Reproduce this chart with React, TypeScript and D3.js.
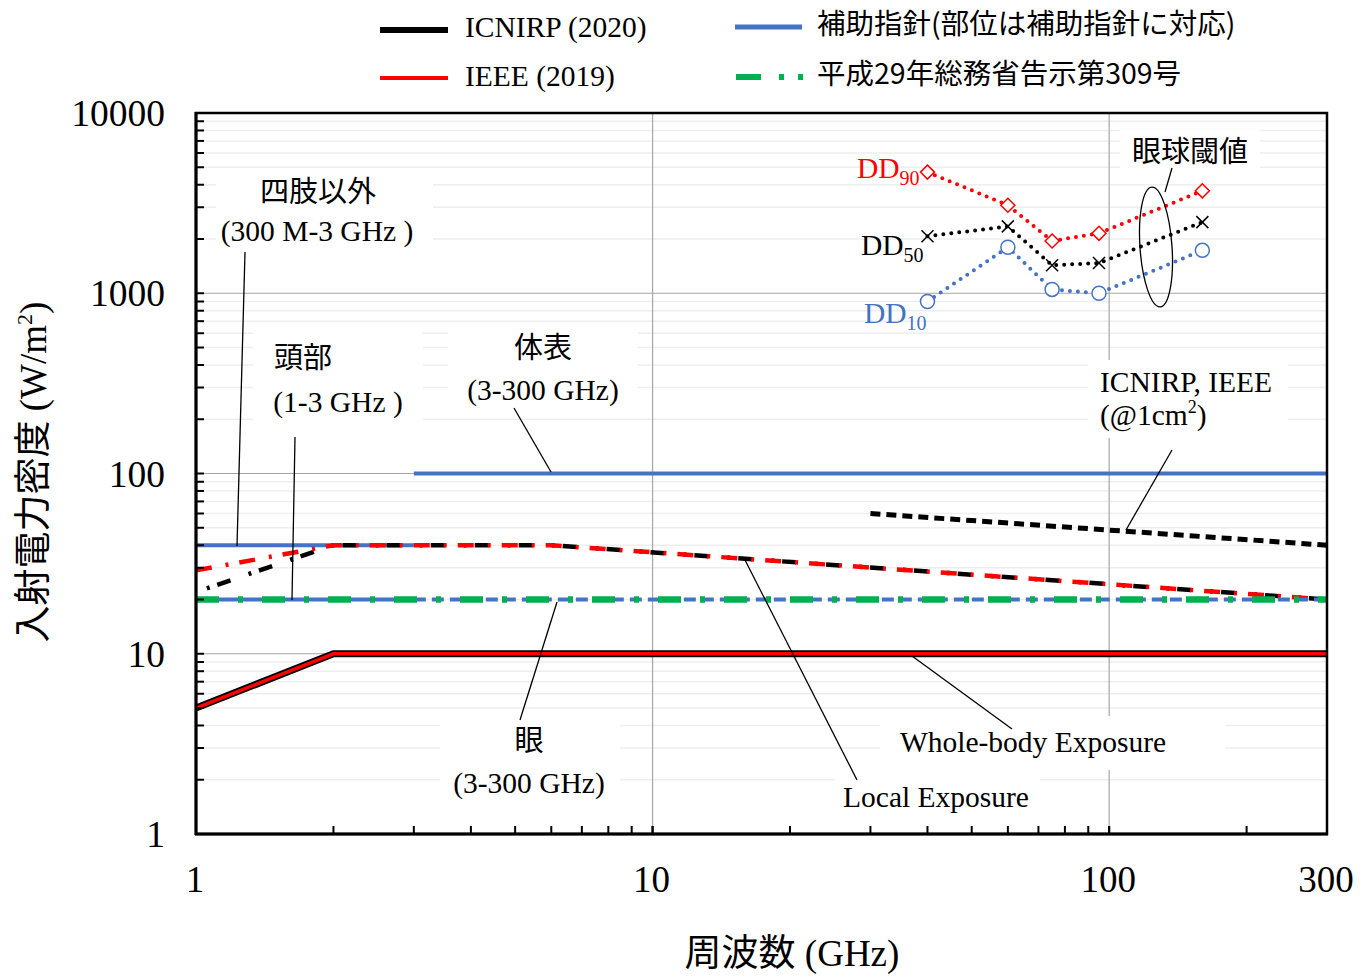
import React from 'react'
import * as d3 from 'd3'

// frequency axis (GHz) and power density axis (W/m2)
const xTickValues = [1, 10, 100, 300]
const yTickValues = [1, 10, 100, 1000, 10000]

// whole-body exposure
const wbFreq = [1, 2, 300]
const wbIcnirp = [5, 10, 10]
const wbIeee = [5, 10, 10]

// local exposure
const localFreq = [1, 2, 6, 300]
const localIcnirp = [22, 40, 40, 20]
const localIeee = [29, 40, 40, 20]

// ICNIRP, IEEE @1cm2
const cm1Freq = [30, 300]
const cm1Vals = [60, 40]

// supplementary guideline (blue)
const nonLimbFreq = [1, 3]
const nonLimbVals = [40, 40]
const headFreq = [1, 3]
const headVals = [20, 20]
const bodyFreq = [3, 300]
const bodyVals = [100, 100]
const eyeFreq = [3, 300]
const eyeVals = [20, 20]

// MIC notice No.309 (green)
const micFreq = [1, 300]
const micVals = [20, 20]

// eye damage thresholds
const thrFreq = [40, 60, 75, 95, 160]
const dd90 = [4700, 3080, 1950, 2150, 3700]
const dd50 = [2070, 2350, 1430, 1470, 2480]
const dd10 = [900, 1800, 1050, 1000, 1730]

const W = 1363
const H = 977
const SERIF = "'Liberation Serif', 'Times New Roman', serif"
const CJK = "'Noto Sans CJK JP', sans-serif"
const BLUE = '#4472C4'
const GREEN = '#00B050'
const RED = '#FF0000'

const x = d3.scaleLog().domain([1, 300]).range([196, 1327])
const y = d3.scaleLog().domain([1, 10000]).range([834, 113])

const zip = (xs, ys) => xs.map((f, i) => [f, ys[i]])
const line = d3.line().x(d => x(d[0])).y(d => y(d[1]))

// length of the first segment, so the two dashed local lines stay in phase after 2 GHz
const segLen = (xs, ys) => Math.hypot(x(xs[1]) - x(xs[0]), y(ys[1]) - y(ys[0]))

export default function App() {
  const minorY = []
  for (let dec = 1; dec < 10000; dec *= 10)
    for (let k = 2; k <= 9; k++) minorY.push(dec * k)
  const minorX = []
  for (let dec = 1; dec < 300; dec *= 10)
    for (let k = 1; k <= 9; k++) if (dec * k <= 300 && dec * k > 1) minorX.push(dec * k)

  const boxes = [
    [216, 168, 217, 84],
    [253, 322, 170, 118],
    [448, 322, 190, 92],
    [1088, 360, 200, 78],
    [440, 712, 180, 95],
    [880, 716, 345, 54],
    [835, 776, 205, 42],
    [1120, 130, 140, 42],
  ]

  const phase = segLen(localFreq, localIcnirp) - segLen(localFreq, localIeee)
  const diamond = (cx, cy, r) => `M${cx},${cy - r}L${cx + r},${cy}L${cx},${cy + r}L${cx - r},${cy}Z`

  return (
    <div style={{ position: 'absolute', left: 0, top: 0 }}>
      <svg width={W} height={H} style={{ display: 'block', background: '#fff' }}>
        {/* minor grid */}
        {minorY.map(v => (
          <line key={'my' + v} x1={196} x2={1327} y1={y(v)} y2={y(v)} stroke="#eeeeee" strokeWidth={1.5} />
        ))}
        {/* major grid */}
        {[10, 100, 1000].map(v => (
          <line key={'gy' + v} x1={196} x2={1327} y1={y(v)} y2={y(v)} stroke="#a6a6a6" strokeWidth={1.2} />
        ))}
        {[10, 100].map(v => (
          <line key={'gx' + v} x1={x(v)} x2={x(v)} y1={113} y2={834} stroke="#a6a6a6" strokeWidth={1.2} />
        ))}
        {/* label backgrounds */}
        {boxes.map((b, i) => (
          <rect key={'b' + i} x={b[0]} y={b[1]} width={b[2]} height={b[3]} fill="#fff" />
        ))}

        {/* supplementary guideline */}
        <path d={line(zip(bodyFreq, bodyVals))} stroke={BLUE} strokeWidth={4} fill="none" />
        <path d={line(zip(nonLimbFreq, nonLimbVals))} stroke={BLUE} strokeWidth={4} fill="none" />

        {/* local exposure */}
        <path d={line(zip(localFreq, localIcnirp))} stroke="#000" strokeWidth={4.5} fill="none"
          strokeDasharray="14 19 3 8" strokeDashoffset={-17 - phase} />
        <path d={line(zip(localFreq, localIeee))} stroke={RED} strokeWidth={4.5} fill="none"
          strokeDasharray="16 14 3 11" />

        {/* 20 W/m2 lines */}
        <path d={line(zip(headFreq, headVals))} stroke={BLUE} strokeWidth={4} fill="none" />
        <path d={line(zip(eyeFreq, eyeVals))} stroke={BLUE} strokeWidth={4} fill="none" strokeDasharray="12 6" />
        <path d={line(zip(micFreq, micVals))} stroke={GREEN} strokeWidth={6.5} fill="none"
          strokeDasharray="23 19 5 19" strokeLinecap="butt" />

        {/* whole-body */}
        <path d={line(zip(wbFreq, wbIcnirp))} stroke="#000" strokeWidth={7} fill="none" />
        <path d={line(zip(wbFreq, wbIeee))} stroke={RED} strokeWidth={3.5} fill="none" />

        {/* 1cm2 */}
        <path d={line(zip(cm1Freq, cm1Vals))} stroke="#000" strokeWidth={5} fill="none" strokeDasharray="10 6" />

        {/* thresholds */}
        <path d={line(zip(thrFreq, dd90))} stroke={RED} strokeWidth={4} fill="none" strokeDasharray="0 8" strokeLinecap="round" />
        <path d={line(zip(thrFreq, dd50))} stroke="#000" strokeWidth={4} fill="none" strokeDasharray="0 8" strokeLinecap="round" />
        <path d={line(zip(thrFreq, dd10))} stroke={BLUE} strokeWidth={4} fill="none" strokeDasharray="0 8" strokeLinecap="round" />
        {thrFreq.map((f, i) => (
          <path key={'d90' + i} d={diamond(x(f), y(dd90[i]), 7)} fill="#fff" stroke={RED} strokeWidth={1.5} />
        ))}
        {thrFreq.map((f, i) => (
          <g key={'d50' + i} stroke="#000" strokeWidth={1.5}>
            <line x1={x(f) - 6} x2={x(f) + 6} y1={y(dd50[i]) - 6} y2={y(dd50[i]) + 6} />
            <line x1={x(f) - 6} x2={x(f) + 6} y1={y(dd50[i]) + 6} y2={y(dd50[i]) - 6} />
          </g>
        ))}
        {thrFreq.map((f, i) => (
          <circle key={'d10' + i} cx={x(f)} cy={y(dd10[i])} r={7} fill="#fff" stroke={BLUE} strokeWidth={1.5} />
        ))}

        {/* frame */}
        <rect x={196} y={113} width={1131} height={721} fill="none" stroke="#000" strokeWidth={2.5} />
        <line x1={196} x2={196} y1={112} y2={835} stroke="#000" strokeWidth={3} />
        <line x1={195} x2={1328} y1={834} y2={834} stroke="#000" strokeWidth={3} />
        {/* ticks */}
        {yTickValues.concat(minorY).map(v => (
          <line key={'ty' + v} x1={196} x2={204} y1={y(v)} y2={y(v)} stroke="#000" strokeWidth={2} />
        ))}
        {xTickValues.concat(minorX).map(v => (
          <line key={'tx' + v} x1={x(v)} x2={x(v)} y1={834} y2={826} stroke="#000" strokeWidth={2} />
        ))}
        {/* tick labels */}
        {yTickValues.map(v => (
          <text key={'ly' + v} x={165} y={y(v)} dy="0.35em" textAnchor="end" fontFamily={SERIF} fontSize={37.5}>{v}</text>
        ))}
        {xTickValues.map(v => (
          <text key={'lx' + v} x={x(v) - 1} y={892} textAnchor="middle" fontFamily={SERIF} fontSize={37}>{v}</text>
        ))}
        {/* axis titles */}
        <text x={792} y={966} textAnchor="middle" fontSize={37}>
          <tspan fontFamily={CJK}>周波数</tspan>
          <tspan fontFamily={SERIF}> (GHz)</tspan>
        </text>
        <text transform="translate(46,472) rotate(-90)" textAnchor="middle" fontSize={37}>
          <tspan fontFamily={CJK}>入射電力密度</tspan>
          <tspan fontFamily={SERIF}> (W/m</tspan>
          <tspan fontFamily={SERIF} fontSize={22} dy={-14}>2</tspan>
          <tspan fontFamily={SERIF} dy={14}>)</tspan>
        </text>

        {/* leader lines */}
        <g stroke="#000" strokeWidth={1.3}>
          <line x1={245} y1={252} x2={237} y2={546} />
          <line x1={295} y1={437} x2={292} y2={600} />
          <line x1={514} y1={408} x2={551} y2={472} />
          <line x1={1172} y1={450} x2={1126} y2={530} />
          <line x1={520} y1={720} x2={557} y2={602} />
          <line x1={1012} y1={729} x2={912} y2={656} />
          <line x1={857} y1={780} x2={745} y2={560} />
          <line x1={1172} y1={168} x2={1165} y2={192} />
        </g>
        <ellipse cx={1156} cy={247} rx={16} ry={60} fill="none" stroke="#000" strokeWidth={1.3} transform="rotate(-4 1156 247)" />

        {/* annotations */}
        <g fontSize={29.5} textAnchor="middle">
          <text x={318} y={202} fontFamily={CJK} fontSize={29}>四肢以外</text>
          <text x={317} y={241} fontFamily={SERIF}>(300 M-3 GHz )</text>
          <text x={303} y={368} fontFamily={CJK} fontSize={29}>頭部</text>
          <text x={338} y={412} fontFamily={SERIF}>(1-3 GHz )</text>
          <text x={543} y={358} fontFamily={CJK} fontSize={29}>体表</text>
          <text x={543} y={400} fontFamily={SERIF}>(3-300 GHz)</text>
          <text x={529} y={751} fontFamily={CJK} fontSize={29}>眼</text>
          <text x={529} y={793} fontFamily={SERIF}>(3-300 GHz)</text>
          <text x={1033} y={752} fontFamily={SERIF}>Whole-body Exposure</text>
          <text x={936} y={807} fontFamily={SERIF}>Local Exposure</text>
          <text x={1190} y={162} fontFamily={CJK} fontSize={29}>眼球閾値</text>
        </g>
        <g fontSize={29.5} fontFamily={SERIF}>
          <text x={1100} y={392}>ICNIRP, IEEE</text>
          <text x={1100} y={425}>(@1cm<tspan fontSize={18} dy={-12}>2</tspan><tspan dy={12}>)</tspan></text>
          <text x={857} y={178} fill={RED}>DD<tspan fontSize={20} dy={7}>90</tspan></text>
          <text x={861} y={255} fill="#000">DD<tspan fontSize={20} dy={7}>50</tspan></text>
          <text x={864} y={323} fill={BLUE}>DD<tspan fontSize={20} dy={7}>10</tspan></text>
        </g>

        {/* legend */}
        <line x1={380} x2={448} y1={30} y2={30} stroke="#000" strokeWidth={6} />
        <text x={465} y={37} fontFamily={SERIF} fontSize={29.5}>ICNIRP (2020)</text>
        <line x1={380} x2={448} y1={78} y2={78} stroke={RED} strokeWidth={4} />
        <text x={465} y={86} fontFamily={SERIF} fontSize={29.5}>IEEE (2019)</text>
        <line x1={735} x2={802} y1={27} y2={27} stroke={BLUE} strokeWidth={5} />
        <text x={817} y={34} fontFamily={CJK} fontSize={28.5}>補助指針(部位は補助指針に対応)</text>
        <line x1={736} x2={805} y1={77} y2={77} stroke={GREEN} strokeWidth={6} strokeDasharray="25 18 5 14 5" />
        <text x={817} y={84} fontFamily={CJK} fontSize={28.5}>平成29年総務省告示第309号</text>
      </svg>
    </div>
  )
}
